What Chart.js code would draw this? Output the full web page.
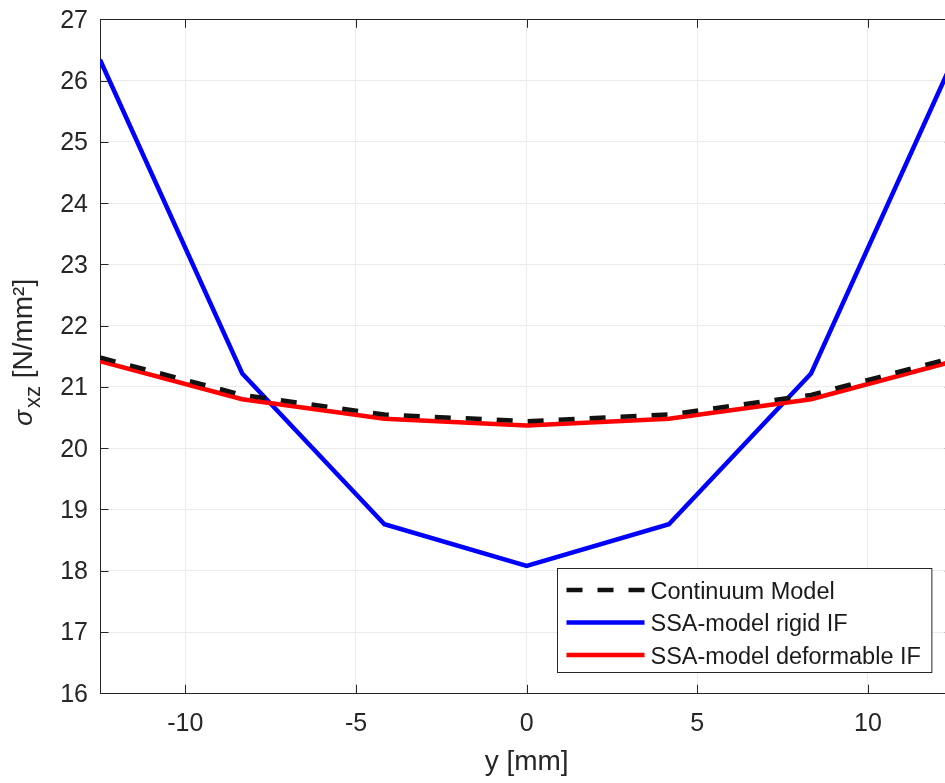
<!DOCTYPE html>
<html lang="en">
<head>
<meta charset="UTF-8">
<title>sigma xz</title>
<script src="https://cdn.jsdelivr.net/npm/chart.js"></script>
<style>
    html, body { margin: 0; padding: 0; overflow: hidden; background: #fff; }
    #wrap { position: relative; width: 960px; height: 783px; }
</style>
</head>
<body>
<div id="wrap"><canvas id="chart_tensao"></canvas></div>

<script>
// dados
const posY = [-12.5, -8.333, -4.167, 0, 4.167, 8.333, 12.5];
const continuo = [21.48, 20.87, 20.55, 20.44, 20.55, 20.87, 21.48];
const rigido = [26.34, 21.22, 18.76, 18.08, 18.76, 21.22, 26.34];
const deformavel = [21.42, 20.80, 20.48, 20.37, 20.48, 20.80, 21.42];
const nomes = ['Continuum Model', 'SSA-model rigid IF', 'SSA-model deformable IF'];
const ticksX = [-10, -5, 0, 5, 10];

const fonte = "'Liberation Sans', Arial, Helvetica, sans-serif";
const corTexto = '#262626';
const tamTick = 8.5;

function pontos(vals) {
    return posY.map((x, i) => ({ x: x, y: vals[i] }));
}

// moldura, ticks para dentro, legenda e titulo do eixo y
const extras = {
    id: 'extras',
    afterDraw(chart) {
        const ctx = chart.ctx;
        const a = chart.chartArea;
        const sx = chart.scales.x, sy = chart.scales.y;
        const al = v => Math.round(v) + 0.5;

        ctx.save();
        ctx.strokeStyle = corTexto;
        ctx.lineWidth = 1;
        ctx.beginPath();
        ctx.moveTo(a.left, al(a.top)); ctx.lineTo(a.right, al(a.top));
        ctx.moveTo(al(a.right), a.top); ctx.lineTo(al(a.right), a.bottom);
        sx.ticks.forEach(t => {
            const p = al(sx.getPixelForValue(t.value));
            ctx.moveTo(p, a.bottom); ctx.lineTo(p, a.bottom - tamTick);
            ctx.moveTo(p, a.top); ctx.lineTo(p, a.top + tamTick);
        });
        sy.ticks.forEach(t => {
            const p = al(sy.getPixelForValue(t.value));
            ctx.moveTo(a.left, p); ctx.lineTo(a.left + tamTick, p);
            ctx.moveTo(a.right, p); ctx.lineTo(a.right - tamTick, p);
        });
        ctx.stroke();

        // legenda
        const ds = chart.data.datasets;
        ctx.font = '23.5px ' + fonte;
        let maxW = 0;
        ds.forEach(d => { maxW = Math.max(maxW, ctx.measureText(d.label).width); });
        const w = 9 + 78 + 6 + maxW + 11;
        const h = 104;
        const bx = Math.round(a.right - 21.6 - w) + 0.5;
        const by = Math.round(a.bottom - 21 - h) + 0.5;
        ctx.fillStyle = '#fff';
        ctx.fillRect(bx, by, w, h);
        ctx.strokeStyle = corTexto;
        ctx.lineWidth = 1;
        ctx.strokeRect(bx, by, w, h);
        ds.forEach((d, i) => {
            const base = by + 30 + i * 32.5;
            ctx.save();
            ctx.strokeStyle = d.borderColor;
            ctx.lineWidth = d.borderWidth;
            ctx.setLineDash(d.borderDash || []);
            ctx.beginPath();
            ctx.moveTo(bx + 9, base - 8.5);
            ctx.lineTo(bx + 87, base - 8.5);
            ctx.stroke();
            ctx.restore();
            ctx.fillStyle = '#1a1a1a';
            ctx.textBaseline = 'alphabetic';
            ctx.textAlign = 'left';
            ctx.fillText(d.label, bx + 93, base);
        });

        // titulo do eixo y com subscrito
        ctx.translate(31.5, (a.top + a.bottom) / 2 - 3);
        ctx.rotate(-Math.PI / 2);
        ctx.fillStyle = corTexto;
        ctx.textBaseline = 'alphabetic';
        ctx.textAlign = 'left';
        const fSig = 'italic 26px ' + fonte, fSub = '22px ' + fonte, fMain = '28px ' + fonte;
        ctx.font = fSig; const wSig = ctx.measureText('σ').width;
        ctx.font = fSub; const wSub = ctx.measureText('xz').width;
        ctx.font = fMain; const wMain = ctx.measureText(' [N/mm²]').width;
        let x = -(wSig + wSub + wMain) / 2;
        ctx.font = fSig; ctx.fillText('σ', x, 0); x += wSig + 2;
        ctx.font = fSub; ctx.fillText('xz', x, 8); x += wSub;
        ctx.font = fMain; ctx.fillText(' [N/mm²]', x, 0);
        ctx.restore();
    }
};

const config = {
    type: 'line',
    data: {
        datasets: [{
            label: nomes[0],
            data: pontos(continuo),
            borderColor: '#111111',
            borderWidth: 4.5,
            borderDash: [16, 15],
            pointRadius: 0,
            fill: false,
            order: 0
        }, {
            label: nomes[1],
            data: pontos(rigido),
            borderColor: '#0000ff',
            borderWidth: 4.5,
            pointRadius: 0,
            fill: false,
            order: 2
        }, {
            label: nomes[2],
            data: pontos(deformavel),
            borderColor: '#ff0000',
            borderWidth: 4.5,
            pointRadius: 0,
            fill: false,
            order: 1
        }]
    },
    options: {
        responsive: true,
        maintainAspectRatio: false,
        animation: false,
        layout: { padding: { left: 0, right: 6.7, top: 19.3, bottom: 0 } },
        plugins: {
            legend: { display: false },
            tooltip: { enabled: false }
        },
        scales: {
            x: {
                type: 'linear',
                min: -12.5,
                max: 12.5,
                afterFit: s => {
                    s.height = 89.7;
                    s.paddingLeft = 0; s.paddingRight = 0;
                },
                afterBuildTicks: s => { s.ticks = ticksX.map(v => ({ value: v })); },
                ticks: {
                    padding: 15.5,
                    color: corTexto,
                    font: { family: fonte, size: 25 },
                    callback: v => String(v)
                },
                grid: { color: '#ebebeb', lineWidth: 1, drawTicks: false },
                border: { color: corTexto, width: 1 },
                title: {
                    display: true,
                    text: 'y [mm]',
                    color: corTexto,
                    font: { family: fonte, size: 28 },
                    padding: { top: 0, bottom: 4 }
                }
            },
            y: {
                min: 16,
                max: 27,
                afterFit: s => {
                    s.width = 100;
                    s.paddingTop = 0; s.paddingBottom = 0;
                },
                ticks: {
                    stepSize: 1,
                    padding: 12,
                    labelOffset: 1.5,
                    color: corTexto,
                    font: { family: fonte, size: 25 }
                },
                grid: { color: '#ebebeb', lineWidth: 1, drawTicks: false },
                border: { color: corTexto, width: 1 }
            }
        }
    },
    plugins: [extras]
};

const chart_tensao = new Chart(document.getElementById('chart_tensao'), config);
</script>
</body>
</html>
